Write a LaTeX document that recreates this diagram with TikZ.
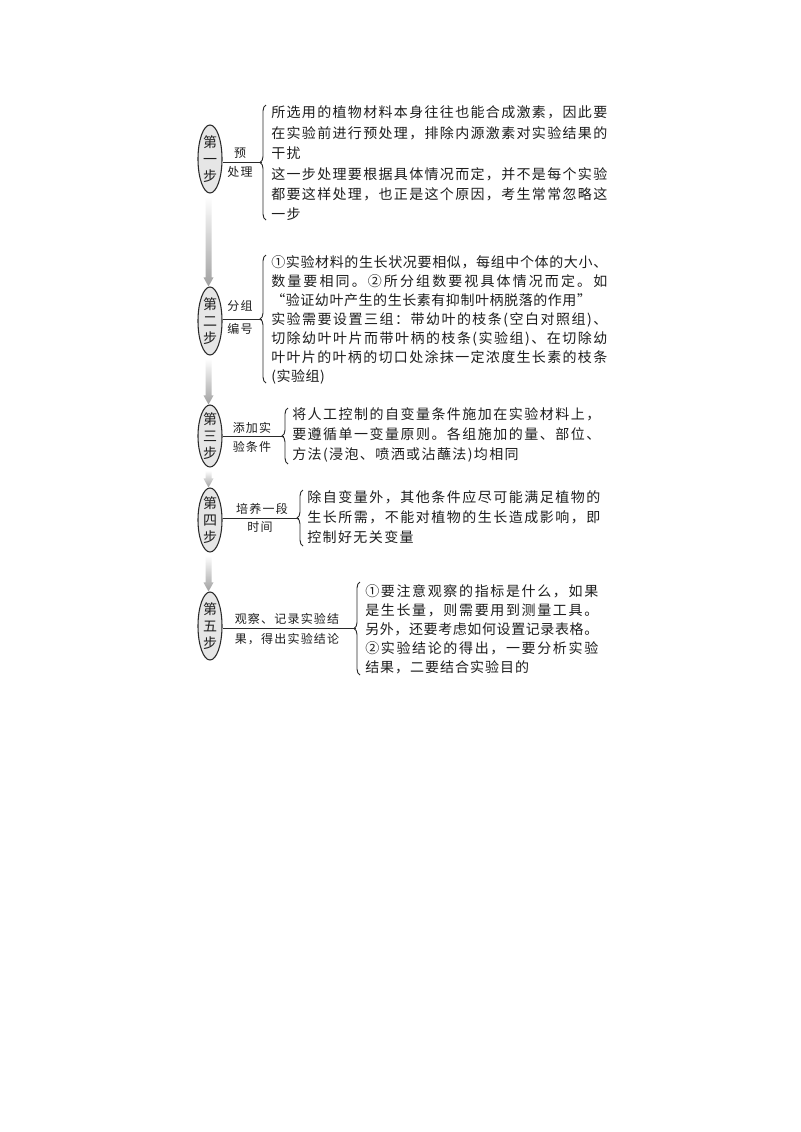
\documentclass[tikz,border=0pt]{standalone}
\usepackage{fontspec}
\setmainfont{Noto Sans CJK SC}
\usetikzlibrary{shapes.geometric,decorations.pathreplacing,calc}
\definecolor{ink}{HTML}{1E1E1E}
\definecolor{linec}{HTML}{2A2A2A}
\definecolor{efill}{HTML}{E6E6E6}
\definecolor{arrowend}{HTML}{A0A0A0}
\makeatletter
\def\jst#1{\jst@a#1\jst@end}
\def\jst@a#1#2\jst@end{#1\if\relax\detokenize{#2}\relax\else\hskip0pt plus 1fil minus 1pt\jst@a#2\jst@end\fi}
\makeatother
\newcommand\jl[2]{\hbox to #1{\jst{#2}}}
\newcommand\steparrow[2]{%
  \shade[arr] ($(#1.south)+(-4.5,3)$) -- ($(#2.north)+(-4.5,-9)$) -- ($(#2.north)+(-6.5,-9)$) --
  ($(#2.north)+(-1.5,0)$) -- ($(#2.north)+(3.5,-9)$) -- ($(#2.north)+(1.5,-9)$) --
  ($(#1.south)+(1.5,3)$) -- cycle;}
\tikzset{
  stepnode/.style={ellipse, draw=linec, line width=0.8pt, fill=efill, minimum width=18pt,
    minimum height=51pt, inner sep=-4pt, align=center, text=ink,
    font=\fontsize{10.5pt}{12.5pt}\selectfont},
  blk/.style={anchor=west, inner sep=0pt, align=left, text=ink},
  lab/.style={inner sep=0pt, text=ink,
    font=\fontsize{9pt}{11pt}\selectfont\addfontfeature{LetterSpace=10}},
  conn/.style={draw=linec, line width=0.75pt},
  brc/.style={draw=linec, line width=0.7pt, decorate, decoration={brace, amplitude=4.5pt}},
  arr/.style={top color=white, bottom color=arrowend, draw=none}
}
\begin{document}
\begin{tikzpicture}[x=0.75pt,y=-0.75pt]
\useasboundingbox (0,0) rectangle (800,1132);
\fill[white] (0,0) rectangle (800,1132);

% step ellipses
\node[stepnode] (s1) at (210,159) {第\\一\\步};
\node[stepnode] (s2) at (210,321) {第\\二\\步};
\node[stepnode, minimum height=46.5pt] (s3) at (210,436) {第\\三\\步};
\node[stepnode, minimum height=48pt] (s4) at (210,520) {第\\四\\步};
\node[stepnode] (s5) at (210,626) {第\\五\\步};

% arrows between steps
\steparrow{s1}{s2}
\steparrow{s2}{s3}
\steparrow{s3}{s4}
\steparrow{s4}{s5}

% braces and their tips
\coordinate (b1t) at (266,105); \coordinate (b1b) at (266,220); \coordinate (k1) at (261.5,162.5);
\coordinate (b2t) at (266,255); \coordinate (b2b) at (266,383); \coordinate (k2) at (261.5,319);
\coordinate (b3t) at (288,408); \coordinate (b3b) at (288,464); \coordinate (k3) at (283.5,436);
\coordinate (b4t) at (303,490); \coordinate (b4b) at (303,546); \coordinate (k4) at (298.5,518);
\coordinate (b5t) at (360,582); \coordinate (b5b) at (360,675); \coordinate (k5) at (355.5,628.5);
\draw[brc] (b1b) -- (b1t);
\draw[brc] (b2b) -- (b2t);
\draw[brc] (b3b) -- (b3t);
\draw[brc] (b4b) -- (b4t);
\draw[brc] (b5b) -- (b5t);

% connectors
\draw[conn] (s1.east |- k1) -- (k1);
\draw[conn] (s2.east |- k2) -- (k2);
\draw[conn] (s3.east |- k3) -- (k3);
\draw[conn] (s4.east |- k4) -- (k4);
\draw[conn] (s5.east |- k5) -- (k5);

% labels on connectors
\node[lab] (l1a) at (240,153) {预};
\node[lab] (l1b) at (240,172) {处理};
\node[lab] (l2a) at (240,306) {分组};
\node[lab] (l2b) at (240,329) {编号};
\node[lab] (l3a) at (252,428) {添加实};
\node[lab] (l3b) at (252,447) {验条件};
\node[lab] (l4a) at (262,509) {培养一段};
\node[lab] (l4b) at (260,527) {时间};
\node[lab] (l5a) at (287,619) {观察、记录实验结};
\node[lab] (l5b) at (287,639) {果，得出实验结论};

% text blocks
\node[blk, font=\fontsize{10.5pt}{15.3pt}\selectfont\addfontfeature{LetterSpace=9}] (t1) at (271,163.5)
{\jl{252pt}{所选用的植物材料本身往往也能合成激素，因此要}\\\jl{252pt}{在实验前进行预处理，排除内源激素对实验结果的}\\干扰\\\jl{252pt}{这一步处理要根据具体情况而定，并不是每个实验}\\\jl{252pt}{都要这样处理，也正是这个原因，考生常常忽略这}\\一步};

\node[blk, font=\fontsize{10.5pt}{14.25pt}\selectfont\addfontfeature{LetterSpace=4}] (t2) at (271,320)
{\jl{252pt}{①实验材料的生长状况要相似，每组中个体的大小、}\\\jl{252pt}{数量要相同。②所分组数要视具体情况而定。如}\\“验证幼叶产生的生长素有抑制叶柄脱落的作用”\\\jl{252pt}{实验需要设置三组：带幼叶的枝条(空白对照组)、}\\\jl{252pt}{切除幼叶叶片而带叶柄的枝条(实验组)、在切除幼}\\\jl{252pt}{叶叶片的叶柄的切口处涂抹一定浓度生长素的枝条}\\(实验组)};

\node[blk, font=\fontsize{10.5pt}{15pt}\selectfont\addfontfeature{LetterSpace=10}] (t3) at (292,435)
{\jl{231pt}{将人工控制的自变量条件施加在实验材料上，}\\\jl{231pt}{要遵循单一变量原则。各组施加的量、部位、}\\方法(浸泡、喷洒或沾蘸法)均相同};

\node[blk, font=\fontsize{10.5pt}{15pt}\selectfont\addfontfeature{LetterSpace=10}] (t4) at (307,517)
{\jl{219.75pt}{除自变量外，其他条件应尽可能满足植物的}\\\jl{219.75pt}{生长所需，不能对植物的生长造成影响，即}\\控制好无关变量};

\node[blk, font=\fontsize{10.5pt}{14.25pt}\selectfont\addfontfeature{LetterSpace=7}] (t5) at (365,629)
{\jl{174.75pt}{①要注意观察的指标是什么，如果}\\\jl{174.75pt}{是生长量，则需要用到测量工具。}\\\jl{174.75pt}{另外，还要考虑如何设置记录表格。}\\\jl{174.75pt}{②实验结论的得出，一要分析实验}\\结果，二要结合实验目的};
\end{tikzpicture}
\end{document}
